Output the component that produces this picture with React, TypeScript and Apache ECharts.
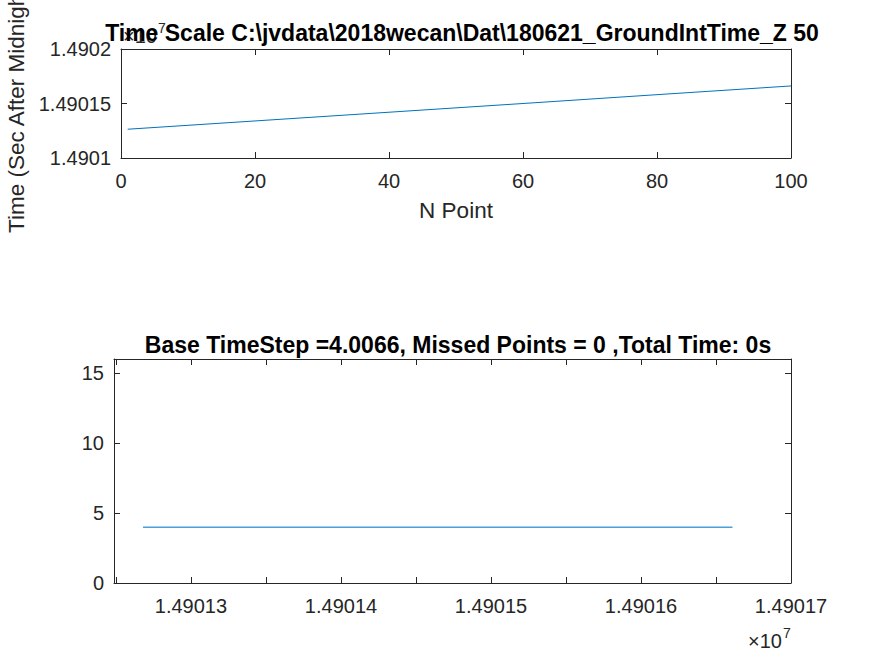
import React, { useEffect, useRef } from "react";
import * as echarts from "echarts";

// Top subplot: time stamp (sec after midnight) vs point index
const topN = [1, 20, 40, 60, 80, 100];
const topTime = [14901264, 14901340, 14901420, 14901500, 14901581, 14901661];

// Bottom subplot: time step vs time stamp
const botTime = [14901268, 14901300, 14901340, 14901380, 14901420, 14901460, 14901500, 14901540, 14901580, 14901620, 14901661];
const botStep = [3.98, 3.99, 3.98, 3.98, 3.99, 3.98, 3.99, 3.98, 3.98, 3.99, 3.98];

const topTitle = "Time Scale C:\\jvdata\\2018wecan\\Dat\\180621_GroundIntTime_Z 50";
const botTitle = "Base TimeStep =4.0066, Missed Points = 0 ,Total Time: 0s";
const topXName = "N Point";
const topYName = "Time (Sec After Midnight)";

const FONT = "'Liberation Sans', Arial, Helvetica, sans-serif";
const INK = "#262626";

const fmtE7 = (v: number) => String(parseFloat((v / 1e7).toFixed(6)));

function boxAxis(extra: any, showLabel: boolean, labelFmt?: (v: number) => string) {
  return {
    type: "value",
    splitLine: { show: false },
    axisLine: { show: true, onZero: false, lineStyle: { color: INK, width: 1 } },
    axisTick: { show: true, inside: true, length: 6, lineStyle: { color: INK, width: 1 } },
    axisLabel: {
      show: showLabel,
      color: INK,
      fontFamily: FONT,
      fontSize: 20,
      formatter: labelFmt,
    },
    ...extra,
  };
}

export default function App() {
  const ref = useRef<HTMLDivElement>(null);
  useEffect(() => {
    if (!ref.current) return;
    const chart = echarts.init(ref.current, undefined, { renderer: "svg" });
    const xBotFmt = (v: number) => (Math.abs(v % 100) < 1e-6 ? fmtE7(v) : "");
    const option: any = {
      animation: false,
      backgroundColor: "#ffffff",
      title: [
        {
          text: topTitle,
          left: 457,
          top: 16,
          textAlign: "center",
          textStyle: { fontFamily: FONT, fontSize: 23, fontWeight: "bold", color: "#000" },
        },
        {
          text: botTitle,
          left: 453,
          top: 328,
          textAlign: "center",
          textStyle: { fontFamily: FONT, fontSize: 23, fontWeight: "bold", color: "#000" },
        },
      ],
      grid: [
        { left: 121, top: 49, width: 670, height: 109 },
        { left: 114, top: 359, width: 677, height: 224 },
      ],
      xAxis: [
        boxAxis(
          {
            gridIndex: 0,
            min: 0,
            max: 100,
            interval: 20,
            position: "bottom",
            name: topXName,
            nameLocation: "middle",
            nameGap: 41,
            nameTextStyle: { fontFamily: FONT, fontSize: 22.5, color: INK },
            axisLabel: { show: true, color: INK, fontFamily: FONT, fontSize: 20, margin: 13 },
          },
          true
        ),
        boxAxis({ gridIndex: 0, min: 0, max: 100, interval: 20, position: "top" }, false),
        boxAxis(
          {
            gridIndex: 1,
            min: 14901248.7,
            max: 14901700,
            minInterval: 50,
            maxInterval: 50,
            position: "bottom",
            axisLabel: {
              show: true,
              color: INK,
              fontFamily: FONT,
              fontSize: 20,
              margin: 13,
              formatter: xBotFmt,
              showMinLabel: false,
            },
          },
          true
        ),
        boxAxis(
          { gridIndex: 1, min: 14901248.7, max: 14901700, minInterval: 50, maxInterval: 50, position: "top" },
          false
        ),
      ],
      yAxis: [
        boxAxis(
          {
            gridIndex: 0,
            min: 14901000,
            max: 14902000,
            interval: 500,
            position: "left",
            axisLabel: { show: true, color: INK, fontFamily: FONT, fontSize: 20, margin: 10, formatter: fmtE7 },
          },
          true
        ),
        boxAxis({ gridIndex: 0, min: 14901000, max: 14902000, interval: 500, position: "right" }, false),
        boxAxis(
          {
            gridIndex: 1,
            min: 0,
            max: 16,
            interval: 5,
            position: "left",
            axisLabel: { show: true, color: INK, fontFamily: FONT, fontSize: 20, margin: 10 },
          },
          true
        ),
        boxAxis({ gridIndex: 1, min: 0, max: 16, interval: 5, position: "right" }, false),
      ],
      series: [
        {
          type: "line",
          xAxisIndex: 0,
          yAxisIndex: 0,
          data: topN.map((n, i) => [n, topTime[i]]),
          showSymbol: false,
          lineStyle: { color: "#0072BD", width: 1 },
          silent: true,
        },
        {
          type: "line",
          xAxisIndex: 2,
          yAxisIndex: 2,
          data: botTime.map((t, i) => [t, botStep[i]]),
          showSymbol: false,
          lineStyle: { color: "#4d9fd8", width: 1.5 },
          silent: true,
        },
      ],
      graphic: [
        {
          type: "text",
          x: 16,
          y: 233,
          rotation: Math.PI / 2,
          z: 0,
          style: {
            text: topYName,
            fontFamily: FONT,
            fontSize: 22.5,
            fill: INK,
            textAlign: "left",
            textVerticalAlign: "middle",
          },
        },
        {
          type: "text",
          x: 123,
          y: 36,
          z: 0,
          style: { text: "×10", fontFamily: FONT, fontSize: 20, fill: INK, textAlign: "left", textVerticalAlign: "middle" },
        },
        {
          type: "text",
          x: 158,
          y: 28,
          z: 0,
          style: { text: "7", fontFamily: FONT, fontSize: 14, fill: INK, textAlign: "left", textVerticalAlign: "middle" },
        },
        {
          type: "text",
          x: 782,
          y: 641,
          z: 0,
          style: { text: "×10", fontFamily: FONT, fontSize: 20, fill: INK, textAlign: "right", textVerticalAlign: "middle" },
        },
        {
          type: "text",
          x: 783,
          y: 633,
          z: 0,
          style: { text: "7", fontFamily: FONT, fontSize: 14, fill: INK, textAlign: "left", textVerticalAlign: "middle" },
        },
      ],
    };
    chart.setOption(option);
    return () => chart.dispose();
  }, []);
  return (
    <div
      ref={ref}
      style={{ position: "fixed", left: 0, top: 0, width: 875, height: 656, background: "#fff" }}
    />
  );
}
